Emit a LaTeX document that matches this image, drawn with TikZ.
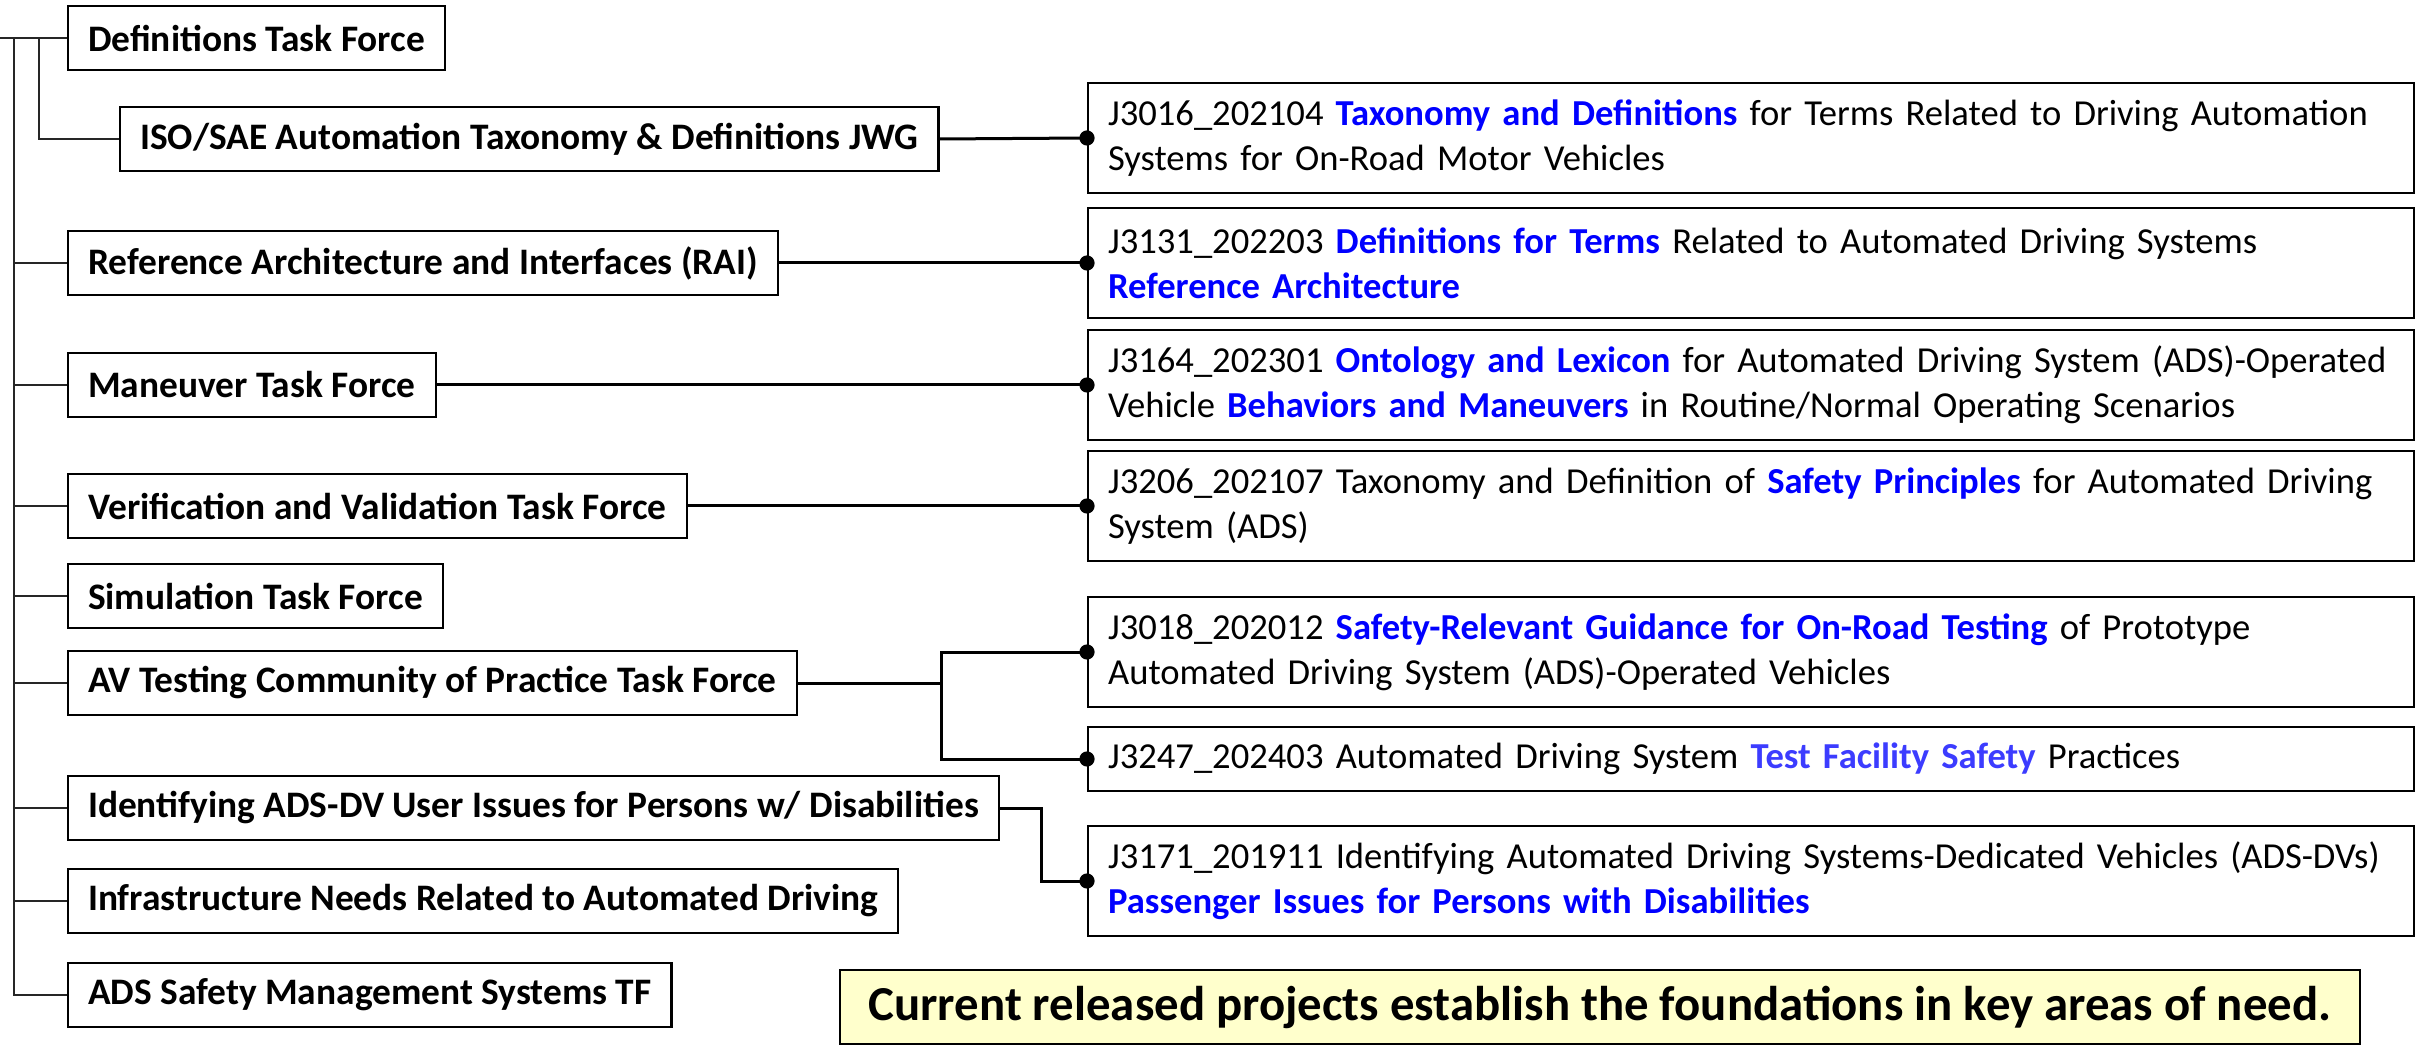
\documentclass[tikz,border=0pt]{standalone}
\usepackage{fontspec}
\setmainfont{Carlito}
\usetikzlibrary{calc}

\definecolor{sblue}{RGB}{0,0,255}
\definecolor{lblue}{RGB}{60,60,255}
\definecolor{notefill}{RGB}{255,255,204}
\newcommand{\kw}[1]{\textcolor{sblue}{\textbf{#1}}}
\newcommand{\kwl}[1]{\textcolor{lblue}{\textbf{#1}}}

\begin{document}
\begin{tikzpicture}[x=0.5pt, y=-0.5pt,
    tf/.style={draw, line width=1.1pt, anchor=west, inner xsep=10pt, inner ysep=0pt,
               minimum height=32pt, font=\fontsize{18.7}{22}\selectfont\bfseries},
    doc/.style={draw, line width=1.1pt, anchor=west, inner xsep=10pt, inner ysep=0pt,
                text width=643pt, align=left, minimum height=55pt,
                font=\fontsize{18.3}{22.5}\selectfont},
    tree/.style={line width=0.8pt, draw=black!85},
    link/.style={line width=1.5pt},
    dot/.style={fill=black}]
  \useasboundingbox (0,0) rectangle (2420,1047);

  % task forces
  \node [tf] (tDef) at (67,38)  {Definitions Task Force};
  \node [tf] (tISO) at (119,139) {ISO/SAE Automation Taxonomy \& Definitions JWG};
  \node [tf] (tRAI) at (67,263) {Reference Architecture and Interfaces (RAI)};
  \node [tf] (tMan) at (67,385) {Maneuver Task Force};
  \node [tf] (tVV)  at (67,506) {Verification and Validation Task Force};
  \node [tf] (tSim) at (67,596) {Simulation Task Force};
  \node [tf] (tAV)  at (67,683) {AV Testing Community of Practice Task Force};
  \node [tf] (tIdy) at (67,808) {Identifying ADS-DV User Issues for Persons w/ Disabilities};
  \node [tf] (tInf) at (67,901) {Infrastructure Needs Related to Automated Driving};
  \node [tf] (tADS) at (67,995) {ADS Safety Management Systems TF};

  % documents
  \node [doc] (sJ3016) at (1087,138)
    {J3016\_202104 \kw{Taxonomy and Definitions} for Terms Related to Driving Automation\\
     Systems for On-Road Motor Vehicles};
  \node [doc] (sJ3131) at (1087,263)
    {J3131\_202203 \kw{Definitions for Terms} Related to Automated Driving Systems\\
     \kw{Reference Architecture}};
  \node [doc] (sJ3164) at (1087,385)
    {J3164\_202301 \kw{Ontology and Lexicon} for Automated Driving System (ADS)-Operated\\
     Vehicle \kw{Behaviors and Maneuvers} in Routine/Normal Operating Scenarios};
  \node [doc] (sJ3206) at (1087,506)
    {J3206\_202107 Taxonomy and Definition of \kw{Safety Principles} for Automated Driving\\
     System (ADS)};
  \node [doc] (sJ3018) at (1087,652)
    {J3018\_202012 \kw{Safety-Relevant Guidance for On-Road Testing} of Prototype\\
     Automated Driving System (ADS)-Operated Vehicles};
  \node [doc, minimum height=32pt] (sJ3247) at (1087,759)
    {J3247\_202403 Automated Driving System \kwl{Test Facility Safety} Practices};
  \node [doc] (sJ3171) at (1087,881)
    {J3171\_201911 Identifying Automated Driving Systems-Dedicated Vehicles (ADS-DVs)\\
     \kw{Passenger Issues for Persons with Disabilities}};

  \node [draw, line width=1.1pt, fill=notefill, minimum width=760pt, minimum height=37pt,
         inner sep=0pt, font=\fontsize{24.4}{29}\selectfont\bfseries] (note) at (1600,1007)
    {Current released projects establish the foundations in key areas of need.};

  % tree on the left
  \coordinate (root)  at (0,38);
  \coordinate (trunk) at (14,38);
  \coordinate (sub)   at (39,38);
  \draw [tree] (root) -- (tDef.west);
  \draw [tree] (trunk) -- (trunk |- tADS.west) -- (tADS.west);
  \foreach \n in {tRAI,tMan,tVV,tSim,tAV,tIdy,tInf}
    \draw [tree] (trunk |- \n.west) -- (\n.west);
  \draw [tree] (sub) |- (tISO.west);

  % links to documents
  \draw [link] (tISO.east) -- (sJ3016.west);
  \draw [link] (tRAI.east) -- (sJ3131.west);
  \draw [link] (tMan.east) -- (sJ3164.west);
  \draw [link] (tVV.east)  -- (sJ3206.west);
  \draw [link] (tAV.east) -- ++(144,0) coordinate (avfork);
  \draw [link] (sJ3018.west) -| (avfork) |- (sJ3247.west);
  \draw [link] (tIdy.east) -- ++(41,0) |- (sJ3171.west);

  \foreach \d in {sJ3016,sJ3131,sJ3164,sJ3206,sJ3018,sJ3247,sJ3171}
    \fill [dot] (\d.west) circle (3.8pt);
\end{tikzpicture}
\end{document}
